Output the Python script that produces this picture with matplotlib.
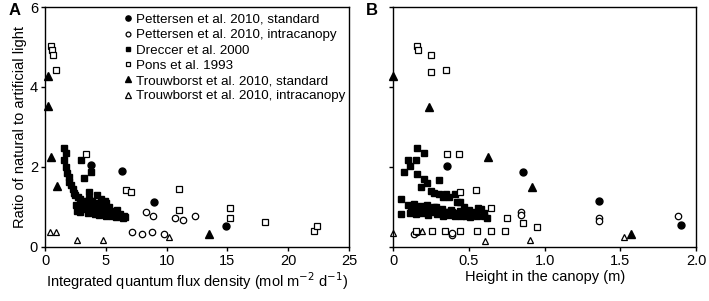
import matplotlib
matplotlib.use("Agg")
import matplotlib.pyplot as plt

plt.rcParams['font.family'] = ['Liberation Sans', 'DejaVu Sans']

# ---------------- Panel A: integrated quantum flux density ----------------
petS_A_x = [3.76, 6.36, 8.96, 14.9]
petS_A_y = [2.04, 1.89, 1.13, 0.53]

petI_A_x = [8.28, 8.85, 7.13, 8.0, 8.83, 9.81, 10.7, 11.35, 12.3]
petI_A_y = [0.86, 0.76, 0.37, 0.32, 0.38, 0.32, 0.73, 0.67, 0.78]

drec_A_x = [1.56, 1.73, 1.56, 1.7, 1.8, 1.95, 2.0, 2.15, 2.3, 2.35, 2.5, 2.7, 2.9, 3.1, 3.3,
            3.5, 3.7, 4.0, 4.3, 4.6, 5.0, 5.4, 5.8, 6.2, 6.5,
            2.93, 3.76, 3.2, 2.52, 3.65, 4.3, 4.6, 5.0, 5.3,
            2.9, 3.2, 3.5, 3.8, 4.1, 4.4, 4.7, 5.0, 5.2, 5.5, 5.8, 6.1, 6.4, 6.6,
            3.0, 3.4, 4.0, 4.5, 4.8, 5.1, 5.6, 6.0, 3.6, 4.2, 4.9, 5.3, 5.9, 2.6, 3.9, 4.4]
drec_A_y = [2.47, 2.34, 2.18, 2.0, 1.85, 1.75, 1.62, 1.55, 1.45, 1.35, 1.3, 1.25, 1.2, 1.15, 1.1,
            1.05, 1.02, 1.0, 0.98, 0.95, 0.92, 0.9, 0.87, 0.82, 0.78,
            2.16, 1.86, 1.71, 1.05, 1.38, 1.3, 1.2, 1.1, 1.0,
            0.88, 0.95, 0.85, 0.9, 0.83, 0.8, 0.85, 0.78, 0.82, 0.77, 0.75, 0.76, 0.72, 0.74,
            1.0, 0.98, 0.92, 0.9, 1.02, 0.95, 0.85, 0.8, 1.2, 1.1, 1.15, 0.88, 0.92, 0.9, 1.15, 1.05]

pons_A_x = [0.49, 0.55, 0.63, 0.88, 3.37, 6.66, 7.05, 11.05, 11.05, 15.2, 15.2, 18.1, 22.15, 22.4]
pons_A_y = [5.02, 4.93, 4.81, 4.42, 2.33, 1.43, 1.38, 1.45, 0.92, 0.98, 0.71, 0.61, 0.39, 0.51]

trS_A_x = [0.27, 0.27, 0.49, 0.96, 13.5]
trS_A_y = [4.28, 3.52, 2.25, 1.51, 0.31]

trI_A_x = [0.41, 0.9, 2.6, 4.74, 10.2]
trI_A_y = [0.36, 0.38, 0.17, 0.18, 0.25]

# ---------------- Panel B: height in the canopy ----------------
petS_B_x = [0.357, 0.86, 1.36, 1.9]
petS_B_y = [2.02, 1.87, 1.15, 0.54]

petI_B_x = [0.845, 0.845, 1.36, 1.36, 1.88, 0.14, 0.155, 0.385, 0.385]
petI_B_y = [0.88, 0.79, 0.73, 0.64, 0.77, 0.32, 0.37, 0.29, 0.35]

drec_B_x = [0.154, 0.203, 0.10, 0.15, 0.07, 0.11, 0.154, 0.22, 0.304, 0.25, 0.30, 0.348, 0.37,
            0.41, 0.42, 0.44, 0.05, 0.05, 0.47, 0.56, 0.62, 0.18, 0.27, 0.33, 0.20,
            0.10, 0.12, 0.14, 0.16, 0.18, 0.20, 0.22, 0.24, 0.26, 0.28, 0.30, 0.32, 0.34, 0.36,
            0.38, 0.40, 0.42, 0.44, 0.46, 0.48, 0.50, 0.52, 0.54, 0.58, 0.60,
            0.11, 0.13, 0.15, 0.17, 0.19, 0.21, 0.23, 0.25, 0.27, 0.29, 0.31, 0.33, 0.35,
            0.37, 0.39, 0.41, 0.43, 0.45, 0.47, 0.49, 0.51, 0.53, 0.55, 0.60]
drec_B_y = [2.46, 2.35, 2.16, 2.16, 1.88, 2.02, 1.82, 1.6, 1.68, 1.4, 1.31, 1.31, 1.24,
            1.31, 1.13, 1.13, 1.2, 0.82, 1.0, 0.97, 0.71, 1.5, 1.35, 1.25, 1.7,
            1.05, 0.95, 1.08, 0.90, 1.02, 0.88, 1.05, 0.92, 0.86, 1.0, 0.84, 0.95, 0.88, 0.82,
            0.92, 0.85, 0.80, 0.90, 0.83, 0.78, 0.92, 0.86, 0.80, 0.95, 0.76,
            0.85, 0.98, 0.82, 1.0, 0.85, 0.96, 0.80, 0.92, 1.0, 0.82, 0.90, 0.78, 0.86,
            0.80, 0.88, 0.78, 0.83, 0.76, 0.88, 0.81, 0.75, 0.84, 0.78, 0.85]

pons_B_x = [0.154, 0.165, 0.247, 0.247, 0.348, 0.357, 0.436, 0.44, 0.548, 0.646, 0.75, 0.855,
            0.952, 0.15, 0.253, 0.341, 0.44, 0.555, 0.646, 0.74]
pons_B_y = [5.03, 4.93, 4.79, 4.37, 4.42, 2.33, 2.33, 1.37, 1.42, 0.96, 0.71, 0.59,
            0.49, 0.39, 0.39, 0.39, 0.39, 0.39, 0.39, 0.39]

trS_B_x = [0.0, 0.238, 0.623, 0.918, 1.568]
trS_B_y = [4.27, 3.5, 2.24, 1.5, 0.31]

trI_B_x = [0.0, 0.19, 0.606, 0.903, 1.526]
trI_B_y = [0.35, 0.39, 0.15, 0.18, 0.25]

labels = ["Pettersen et al. 2010, standard",
          "Pettersen et al. 2010, intracanopy",
          "Dreccer et al. 2000",
          "Pons et al. 1993",
          "Trouwborst et al. 2010, standard",
          "Trouwborst et al. 2010, intracanopy"]

styles = [dict(marker='o', ms=5.0, mfc='black', mec='black'),
          dict(marker='o', ms=4.6, mfc='white', mec='black', mew=0.9),
          dict(marker='s', ms=4.8, mfc='black', mec='black'),
          dict(marker='s', ms=4.4, mfc='white', mec='black', mew=0.9),
          dict(marker='^', ms=5.2, mfc='black', mec='black'),
          dict(marker='^', ms=5.0, mfc='white', mec='black', mew=0.9)]

fig = plt.figure(figsize=(7.09, 3.01), dpi=100)
axA = fig.add_axes([0.0635, 0.1804, 0.4288, 0.796])
axB = fig.add_axes([0.5547, 0.1804, 0.4270, 0.796])

dataA = [(petS_A_x, petS_A_y), (petI_A_x, petI_A_y), (drec_A_x, drec_A_y),
         (pons_A_x, pons_A_y), (trS_A_x, trS_A_y), (trI_A_x, trI_A_y)]
dataB = [(petS_B_x, petS_B_y), (petI_B_x, petI_B_y), (drec_B_x, drec_B_y),
         (pons_B_x, pons_B_y), (trS_B_x, trS_B_y), (trI_B_x, trI_B_y)]

for (x, y), st, lab in zip(dataA, styles, labels):
    axA.plot(x, y, ls='none', label=lab, clip_on=False, **st)
for (x, y), st in zip(dataB, styles):
    axB.plot(x, y, ls='none', clip_on=False, **st)

for ax in (axA, axB):
    ax.set_ylim(0, 6)
    ax.set_yticks([0, 2, 4, 6])
    for s in ax.spines.values():
        s.set_linewidth(1.0)
    ax.tick_params(direction='out', length=3, width=1.0, labelsize=10.5, pad=2)

axA.set_xlim(0, 25)
axA.set_xticks([0, 5, 10, 15, 20, 25])
axA.set_xlabel('Integrated quantum flux density (mol m$^{-2}$ d$^{-1}$)', fontsize=10.5, labelpad=2)
axA.set_ylabel('Ratio of natural to artificial light', fontsize=10.5, labelpad=2)

axB.set_xlim(0, 2.0)
axB.set_xticks([0, 0.5, 1.0, 1.5, 2.0])
axB.set_xticklabels(['0', '0.5', '1.0', '1.5', '2.0'])
axB.set_yticklabels([])
axB.set_xlabel('Height in the canopy (m)', fontsize=10.5, labelpad=2)

axA.legend(loc='upper left', bbox_to_anchor=(0.235, 0.995), frameon=False, fontsize=9.6,
           handletextpad=0.1, labelspacing=0.22, borderaxespad=0.0, handlelength=1.0,
           markerscale=0.75)

fig.text(0.021, 0.965, 'A', fontsize=12, fontweight='bold', ha='center', va='center')
fig.text(0.524, 0.965, 'B', fontsize=12, fontweight='bold', ha='center', va='center')

fig.savefig('out.png', dpi=100)
